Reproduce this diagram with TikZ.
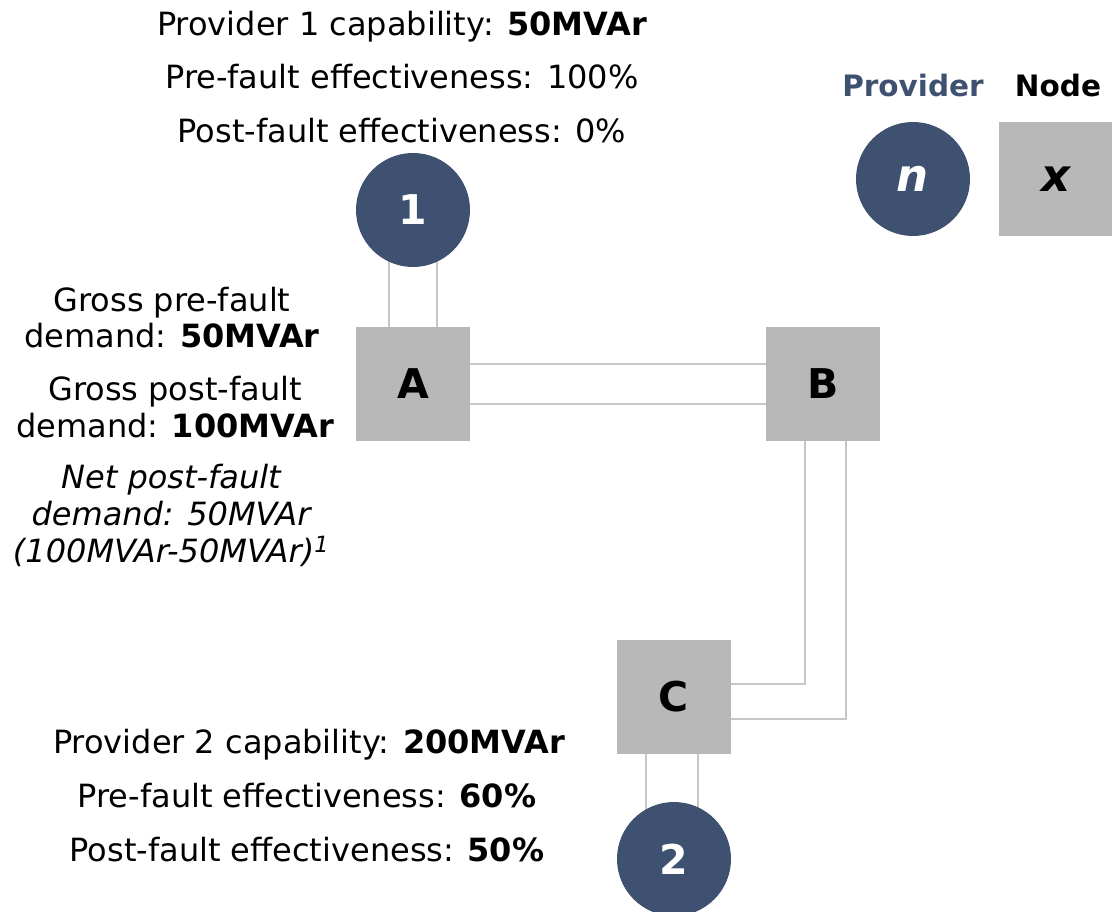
\documentclass[tikz,border=0pt]{standalone}
\usepackage{fontspec}
\setmainfont{DejaVu Sans}
\usetikzlibrary{backgrounds,calc}
\definecolor{navy}{HTML}{3F5170}
\definecolor{boxgray}{HTML}{B8B8B8}
\definecolor{linegray}{HTML}{C6C6C6}
\tikzset{
 provider/.style={circle, fill=navy, minimum size=114pt, inner sep=0pt, text=white, font=\fontsize{41}{41}\selectfont\bfseries},
 nodebox/.style={rectangle, fill=boxgray, minimum size=114pt, inner sep=0pt, font=\fontsize{41}{41}\selectfont\bfseries},
 link/.style={draw=linegray, line width=2pt},
 lbl/.style={anchor=base, inner sep=0pt, font=\fontsize{32}{38}\selectfont},
 legtitle/.style={anchor=base, inner sep=0pt, font=\fontsize{29.5}{32}\selectfont\bfseries},
 legsym/.style={font=\fontsize{45}{45}\selectfont\bfseries\itshape},
}
\begin{document}
\begin{tikzpicture}[x=1pt,y=-1pt]
\useasboundingbox (0,0) rectangle (1112,912);
% nodes
\node[provider] (P1) at (413,210) {1};
\node[nodebox] (A) at (413,384) {A};
\node[nodebox] (B) at (823,384) {B};
\node[nodebox] (C) at (674,697) {C};
\node[provider] (P2) at (674,859) {2};
\node[provider, legsym] (Ln) at (913,179) {n};
\node[nodebox, legsym] (Lx) at (1056,179) {x};
% legend titles
\node[legtitle, text=navy] (LnT) at (913,97) {Provider};
\node[legtitle] (LxT) at (1058,97) {Node};
% top labels
\node[lbl] (t1) at (402,36) {Provider 1 capability: \textbf{50MVAr}};
\node[lbl] (t2) at (402,89) {Pre-fault effectiveness: 100\%};
\node[lbl] (t3) at (402,143) {Post-fault effectiveness: 0\%};
% left labels
\node[lbl] (l1) at (172,312) {Gross pre-fault};
\node[lbl] (l2) at (172,347) {demand: \textbf{50MVAr}};
\node[lbl] (l3) at (175,400) {Gross post-fault};
\node[lbl] (l4) at (175,437) {demand: \textbf{100MVAr}};
\node[lbl] (l5) at (171,488) {\itshape Net post-fault};
\node[lbl] (l6) at (171,525) {\itshape demand: 50MVAr};
\node[lbl] (l7) at (171,562) {\itshape (100MVAr-50MVAr)\textsuperscript{1}};
% bottom labels
\node[lbl] (b1) at (309,753) {Provider 2 capability: \textbf{200MVAr}};
\node[lbl] (b2) at (307,807) {Pre-fault effectiveness: \textbf{60\%}};
\node[lbl] (b3) at (307,861) {Post-fault effectiveness: \textbf{50\%}};
% connectors
\begin{scope}[on background layer]
\draw[link] ($(A.north)+(-24,0)$) -- ($(P1.center)+(-24,0)$);
\draw[link] ($(A.north)+(24,0)$) -- ($(P1.center)+(24,0)$);
\draw[link] ($(A.east)+(0,-20)$) -- ($(B.west)+(0,-20)$);
\draw[link] ($(A.east)+(0,20)$) -- ($(B.west)+(0,20)$);
\draw[link] ($(B.south)+(-18,0)$) |- ($(C.east)+(0,-13)$);
\draw[link] ($(B.south)+(23,0)$) |- ($(C.east)+(0,22)$);
\draw[link] ($(C.south)+(-28,0)$) -- ($(P2.center)+(-28,0)$);
\draw[link] ($(C.south)+(24,0)$) -- ($(P2.center)+(24,0)$);
\end{scope}
\end{tikzpicture}
\end{document}
